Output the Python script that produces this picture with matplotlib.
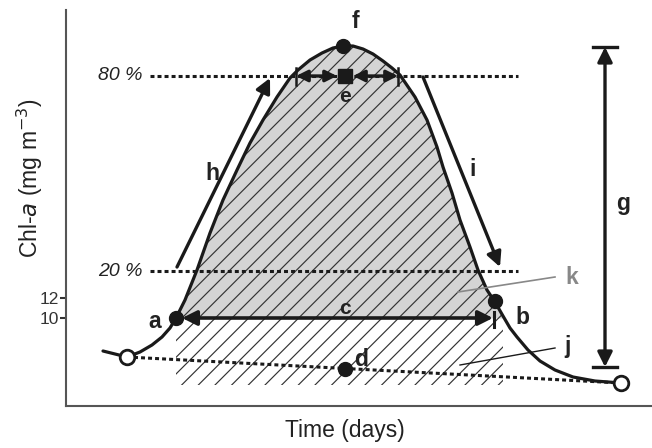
import matplotlib
matplotlib.use('Agg')
import matplotlib.pyplot as plt

plt.rcParams['font.family'] = ['Liberation Sans', 'DejaVu Sans']
plt.rcParams['hatch.linewidth'] = 0.85
plt.rcParams['hatch.color'] = '#333333'

# ---- data read from the schematic (x: days, y: Chl-a mg m-3) ----
curve_day = [9.25, 15.25, 18.5, 21.5, 24, 26, 27.5, 29.75, 32.75, 36, 39.25,
             42.75, 46, 49.25, 52.75, 56, 58, 61, 64, 66.75, 69.25, 71.75,
             74.25, 76.75, 79.25, 81.5, 83.5, 87.25, 90.25, 92.75, 94.25, 96.5,
             98.5, 101, 103, 105.25, 107.25, 109.25, 111, 112.75, 115.5, 118.5,
             122.25, 126.75, 132.25, 138.75]
curve_chl = [6.7, 6.1, 6.6, 7.3, 8.1, 9.0, 10.0, 11.8, 14.8, 18.5, 21.8,
             24.8, 27.5, 29.8, 32.1, 34.0, 34.8, 35.8, 36.5, 37.0, 37.2, 37.2,
             36.9, 36.4, 35.7, 35.0, 34.3, 32.1, 29.8, 27.1, 25.1, 22.5,
             19.8, 17.1, 14.8, 12.8, 11.6, 10.2, 9.0, 8.1, 6.8, 5.7,
             4.8, 4.1, 3.7, 3.5]

level_80 = 34.2
level_20 = 14.7
level_span = [21, 113]
level_labels = ['80 %', '20 %']

start_pt = (27.5, 10.0)      # a
end_pt = (107.25, 11.7)      # b
peak_pt = (69.25, 37.2)      # f
centre_pt = (69.75, 4.9)     # d
e_pt = (69.75, 34.2)         # e
e_left = [57.5, 67.75]
e_right = [71.75, 83.0]
duration_x = [29.0, 106.75]  # c
duration_end_tick = 107.0
threshold = 10.0
baseline_day = [15.25, 138.75]
baseline_chl = [6.1, 3.5]
hatch_floor = 3.3
hatch_end_day = 109.25
amp_x = 134.75               # g
amp_y = [5.1, 37.1]
rise_arrow = [(27.75, 15.1), (51.0, 34.0)]   # h
fall_arrow = [(89.25, 34.1), (108.5, 15.1)]  # i
k_line = [(98.0, 12.6), (122.25, 14.1)]
j_line = [(98.5, 5.3), (122.25, 7.0)]
yticks = [10, 12]

DARK = '#1a1a1a'

fig = plt.figure(figsize=(6.52, 4.48), dpi=100)
ax = fig.add_axes([66 / 652, 42 / 448, 586 / 652, 396 / 448])
ax.set_xlim(0, 146.5)
ax.set_ylim(1.2, 40.8)

# ---- fills ----
seg = [i for i, d in enumerate(curve_day) if start_pt[0] <= d <= hatch_end_day]
sx = [curve_day[i] for i in seg]
sy = [curve_chl[i] for i in seg]
ax.fill_between(sx, sy, threshold, color='#d4d4d4', lw=0, zorder=1)
ax.fill_between(sx, sy, hatch_floor, facecolor='none', edgecolor='#333333',
                hatch='//', lw=0, zorder=2)

# ---- dotted levels ----
dot = (0, (1.3, 1.0))
for lvl, lab in zip([level_80, level_20], level_labels):
    ax.plot(level_span, [lvl, lvl], color=DARK, lw=2.2, ls=dot,
            dash_capstyle='butt', zorder=3)
    ax.text(level_span[0] - 1.8, lvl, lab, fontsize=14, style='italic',
            ha='right', va='center', color='#222222')
ax.plot(baseline_day, baseline_chl, color=DARK, lw=2.2, ls=dot,
        dash_capstyle='butt', zorder=3)

# ---- curve ----
ax.plot(curve_day, curve_chl, color=DARK, lw=2.3, zorder=4,
        solid_capstyle='round', solid_joinstyle='round')


def arrow(tail, tip, style='-|>', scale=20, lw=2.2, color=DARK):
    ax.annotate('', xy=tip, xytext=tail,
                arrowprops=dict(arrowstyle=style, lw=lw, color=color,
                                mutation_scale=scale, shrinkA=0, shrinkB=0),
                zorder=5)


# c duration
arrow((duration_x[0], threshold), (duration_x[1], threshold), '<|-|>', 22, 2.6)
ax.plot([duration_end_tick] * 2, [threshold - 0.9, threshold + 0.6], color=DARK, lw=2.2, zorder=5)
# e arrows
arrow((e_left[0], level_80), (e_left[1], level_80), '<|-|>', 17, 2.4)
arrow((e_right[0], level_80), (e_right[1], level_80), '<|-|>', 17, 2.4)
for xv in [e_left[0], e_right[1]]:
    ax.plot([xv, xv], [level_80 - 0.9, level_80 + 0.8], color=DARK, lw=1.8, zorder=5)
# g amplitude
arrow((amp_x, amp_y[0]), (amp_x, amp_y[1]), '<|-|>', 22, 2.4)
for yv in amp_y:
    ax.plot([amp_x - 3, amp_x + 3], [yv, yv], color=DARK, lw=2.4, zorder=5)
# h, i
arrow(rise_arrow[0], rise_arrow[1], '-|>', 22, 2.4)
arrow(fall_arrow[0], fall_arrow[1], '-|>', 22, 2.4)
# k, j pointer lines
ax.plot(*zip(*k_line), color='#888888', lw=1.2, zorder=5)
ax.plot(*zip(*j_line), color=DARK, lw=1.0, zorder=5)

# ---- points ----
for p in [start_pt, end_pt, peak_pt, centre_pt]:
    ax.plot(*p, 'o', ms=10, color=DARK, zorder=6)
ax.plot(*e_pt, 's', ms=10, color=DARK, zorder=6)
ax.plot([baseline_day[0], baseline_day[1]], [baseline_chl[0], baseline_chl[1]],
        'o', ms=10.5, mfc='white', mec=DARK, mew=2, ls='none', zorder=6, clip_on=False)

# ---- letters ----
lk = dict(fontsize=16.5, fontweight='bold', color='#222222', ha='center', va='center', zorder=7)
ax.text(22.25, 9.7, 'a', **lk)
ax.text(114.0, 10.0, 'b', **lk)
ax.text(69.75, 11.0, 'c', **dict(lk, fontsize=15))
ax.text(73.75, 5.9, 'd', **lk)
ax.text(69.75, 32.1, 'e', **dict(lk, fontsize=15))
ax.text(72.25, 39.6, 'f', **lk)
ax.text(139.25, 21.5, 'g', **lk)
ax.text(36.5, 24.5, 'h', **lk)
ax.text(101.75, 24.8, 'i', **lk)
ax.text(125.5, 7.2, 'j', **lk)
ax.text(126.5, 14.1, 'k', **dict(lk, color='#888888'))

# ---- axes styling ----
for s in ['top', 'right']:
    ax.spines[s].set_visible(False)
for s in ['left', 'bottom']:
    ax.spines[s].set_color('#555555')
    ax.spines[s].set_linewidth(1.5)
ax.set_xticks([])
ax.set_yticks(yticks)
ax.set_yticklabels([str(t) for t in yticks])
ax.tick_params(axis='y', length=4, width=1.5, color='#333333', labelsize=12.5,
               labelcolor='#333333', pad=1)

fig.text(30 / 652, 1 - 178 / 448, 'Chl-$\\mathit{a}$ (mg m$^{-3}$)', rotation=90,
         fontsize=16.5, ha='center', va='center', color='#222222')
fig.text(345 / 652, 1 - 430 / 448, 'Time (days)', fontsize=16.5,
         ha='center', va='center', color='#222222')

fig.savefig('out.png', dpi=100)
